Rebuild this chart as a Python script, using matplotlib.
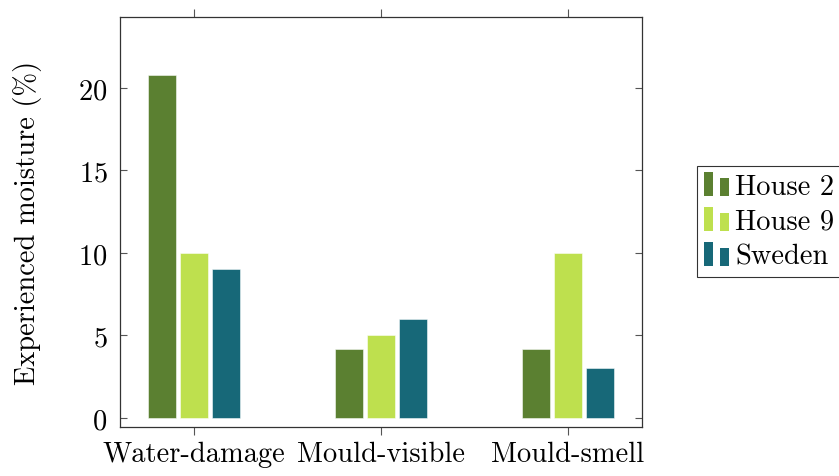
import matplotlib
matplotlib.use("Agg")
import matplotlib.pyplot as plt
import numpy as np
from matplotlib.patches import Rectangle
from matplotlib.legend_handler import HandlerBase

plt.rcParams['font.family'] = 'serif'
plt.rcParams['font.serif'] = ['cmr10', 'DejaVu Serif']
plt.rcParams['mathtext.fontset'] = 'cm'
plt.rcParams['axes.formatter.use_mathtext'] = True

categories = ["Water-damage", "Mould-visible", "Mould-smell"]
series_names = ["House 2", "House 9", "Sweden"]
house2 = [20.8, 4.2, 4.2]
house9 = [10.0, 5.0, 10.0]
sweden = [9.0, 6.0, 3.0]
colors = ["#5B8031", "#BEE04E", "#176878"]
yticks = [0, 5, 10, 15, 20]

FS = 20.5

fig = plt.figure(figsize=(8.39, 4.77), dpi=100)
ax = fig.add_axes([120/839, 1-428/477, (642-120)/839, (428-18)/477])

x = np.arange(len(categories))
w = 0.15
off = 0.171
for i, (vals, name, c) in enumerate(zip([house2, house9, sweden], series_names, colors)):
    ax.bar(x + (i-1)*off, vals, width=w, color=c, edgecolor=(1, 1, 1, 0.6), linewidth=0.6, label=name)

ax.set_xlim(-0.396, 2.396)
ax.set_ylim(-0.55, 24.3)
ax.set_xticks(x)
ax.set_xticklabels(categories)
ax.set_yticks(yticks)
ax.tick_params(axis='y', direction='in', left=True, right=True, length=5, width=0.8, color='#555555', labelsize=FS, pad=9)
ax.tick_params(axis='x', direction='out', top=True, bottom=True, length=6, width=0.8, color='#555555', labelsize=FS, pad=4)
for s in ax.spines.values():
    s.set_color('#333333')
    s.set_linewidth(0.9)
ax.set_ylabel("Experienced moisture (%)", fontsize=FS, labelpad=26)


class TwoBarHandler(HandlerBase):
    def create_artists(self, legend, orig_handle, xdescent, ydescent, width, height, fontsize, trans):
        c = orig_handle.get_facecolor()
        bw = width * 0.36
        h = height * 1.2
        y0 = -ydescent - height * 0.12
        r1 = Rectangle((-xdescent, y0), bw, h, facecolor=c, edgecolor='none', transform=trans)
        r2 = Rectangle((-xdescent + width * 0.67, y0), bw, h * 0.75, facecolor=c, edgecolor='none', transform=trans)
        return [r1, r2]


handles = [Rectangle((0, 0), 1, 1, facecolor=c) for c in colors]
leg = fig.legend(handles, series_names, loc='center left', bbox_to_anchor=(697/839, 1-222.5/477),
                 handler_map={Rectangle: TwoBarHandler()}, fontsize=FS, frameon=True, fancybox=False,
                 edgecolor='black', handlelength=0.84, handletextpad=0.25, borderpad=0.25, labelspacing=0.3,
                 borderaxespad=0)
leg.get_frame().set_linewidth(0.8)

fig.savefig("out.png", dpi=100)
